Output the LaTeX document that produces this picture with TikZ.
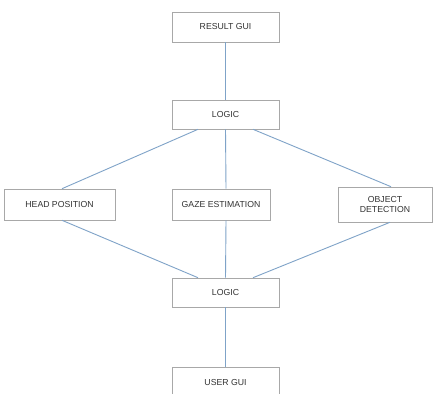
\documentclass[tikz,border=0pt]{standalone}
\usepackage{fontspec}
\setmainfont{Liberation Sans}
\definecolor{boxline}{HTML}{A8A8A8}
\definecolor{conn}{HTML}{7FA3C8}
\definecolor{txt}{HTML}{333333}
\begin{document}
\begin{tikzpicture}[x=1pt,y=-1pt,
  box/.style={draw=boxline, line width=0.6pt, fill=white, inner sep=0pt, text=txt,
    font=\fontsize{8.7}{10}\selectfont, align=center, minimum height=30pt},
  link/.style={draw=conn, line width=0.9pt}]
\clip (0,0) rectangle (438,393);
\fill[white] (0,0) rectangle (438,393);
\node[box, minimum width=107pt, minimum height=30pt] (result) at (225.5,27) {RESULT GUI};
\node[box, minimum width=107pt, minimum height=29pt] (logicA) at (225.5,114.5) {LOGIC};
\node[box, minimum width=111pt, minimum height=31pt] (head) at (59.5,204.5) {HEAD POSITION};
\node[box, minimum width=98pt, minimum height=31pt] (gaze) at (221,204.5) {GAZE ESTIMATION};
\node[box, minimum width=94pt, minimum height=35pt] (object) at (385,204.5) {OBJECT\\DETECTION};
\node[box, minimum width=107pt, minimum height=29pt] (logicB) at (225.5,292.5) {LOGIC};
\node[box, minimum width=107pt, minimum height=30pt] (user) at (225.5,382) {USER GUI};
\draw[link] (result.south) -- (logicA.north);
\draw[link] ([xshift=-27.5pt]logicA.south) -- ([xshift=2.5pt]head.north);
\draw[link] (logicA.south) -- ([xshift=5pt]gaze.north);
\draw[link] ([xshift=27.5pt]logicA.south) -- ([xshift=6pt]object.north);
\draw[link] ([xshift=2.5pt]head.south) -- ([xshift=-27.5pt]logicB.north);
\draw[link] ([xshift=5pt]gaze.south) -- (logicB.north);
\draw[link] ([xshift=5pt]object.south) -- ([xshift=27.5pt]logicB.north);
\draw[link] (logicB.south) -- (user.north);
\end{tikzpicture}
\end{document}
